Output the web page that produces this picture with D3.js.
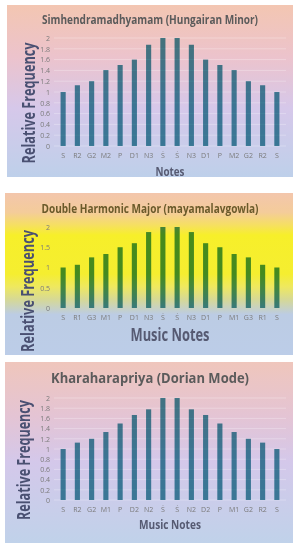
<!DOCTYPE html>
<html lang="en">
<head>
<meta charset="UTF-8">
<title>Ragas</title>
<script src="https://d3js.org/d3.v7.min.js"></script>
<style>
  body { margin: 0; background: #fff; }
  text { font-family: "Open Sans", "Noto Sans", sans-serif; }
</style>
</head>
<body>
<svg class="svgs" width="300" height="550"></svg>
<script>
// notes and relative frequencies for each scale
const notes1 = ['S', 'R2', 'G2', 'M2', 'P', 'D1', 'N3', 'Ṡ', 'Ṡ', 'N3', 'D1', 'P', 'M2', 'G2', 'R2', 'S']
const values1 = [1, 1.125, 1.2, 1.406, 1.5, 1.6, 1.875, 2, 2, 1.875, 1.6, 1.5, 1.406, 1.2, 1.125, 1]
const ticks1 = [0, 0.2, 0.4, 0.6, 0.8, 1, 1.2, 1.4, 1.6, 1.8, 2]

const notes2 = ['S', 'R1', 'G3', 'M1', 'P', 'D1', 'N3', 'Ṡ', 'Ṡ', 'N3', 'D1', 'P', 'M1', 'G3', 'R1', 'S']
const values2 = [1, 1.067, 1.25, 1.333, 1.5, 1.6, 1.875, 2, 2, 1.875, 1.6, 1.5, 1.333, 1.25, 1.067, 1]
const ticks2 = [0, 0.5, 1, 1.5, 2]

const notes3 = ['S', 'R2', 'G2', 'M1', 'P', 'D2', 'N2', 'Ṡ', 'Ṡ', 'N2', 'D2', 'P', 'M1', 'G2', 'R2', 'S']
const values3 = [1, 1.125, 1.2, 1.333, 1.5, 1.667, 1.778, 2, 2, 1.778, 1.667, 1.5, 1.333, 1.2, 1.125, 1]
const ticks3 = [0, 0.2, 0.4, 0.6, 0.8, 1, 1.2, 1.4, 1.6, 1.8, 2]

const titles = ['Simhendramadhyamam (Hungairan Minor)', 'Double Harmonic Major (mayamalavgowla)', 'Kharaharapriya (Dorian Mode)']
const xTitles = ['Notes', 'Music Notes', 'Music Notes']

const svg = d3.select('.svgs')
const defs = svg.append('defs')

// panel layouts
const panels = [
  { x: 7, y: 5, w: 286, h: 172, y0: 146, y1: 38, notes: notes1, values: values1, ticks: ticks1,
    titleY: 24, titleLen: 216, titleSize: 11.5, titleColor: '#5b5b5b',
    labY: 159, xtY: 176, xtSize: 12.5, xtLen: 29, ytX: 35, ytY: 103, ytLen: 121, grid: true,
    stops: [[0, '#f3c6b2'], [0.3, '#ecc3cc'], [0.6, '#d6c8ea'], [1, '#bed0ea']] },
  { x: 5, y: 193, w: 288, h: 162, y0: 308, y1: 227, notes: notes2, values: values2, ticks: ticks2,
    titleY: 213, titleLen: 217, titleSize: 11.5, titleColor: '#6a5a2a',
    labY: 321, xtY: 341, xtSize: 17, xtLen: 79, ytX: 34, ytY: 291, ytLen: 122, grid: false,
    stops: [[0, '#f3c6ac'], [0.12, '#f4cc9a'], [0.2, '#f6e060'], [0.26, '#f7ef2a'], [0.5, '#f5ee30'], [0.58, '#eee860'], [0.66, '#d5d898'], [0.75, '#bccce4'], [1, '#bccde8']] },
  { x: 5, y: 362, w: 288, h: 181, y0: 500, y1: 398, notes: notes3, values: values3, ticks: ticks3,
    titleY: 383, titleLen: 198, titleSize: 15, titleColor: '#5b5b5b',
    labY: 513, xtY: 529, xtSize: 13, xtLen: 62, ytX: 30, ytY: 460, ytLen: 120, grid: true,
    stops: [[0, '#efc6bc'], [0.3, '#e4c4d4'], [0.55, '#d4c8ea'], [1, '#c0d2ea']] }
]

panels.forEach((p, i) => {
  const grad = defs.append('linearGradient')
    .attr('id', 'bg' + i)
    .attr('x1', 0).attr('y1', 0).attr('x2', 0).attr('y2', 1)
  p.stops.forEach(s => grad.append('stop').attr('offset', s[0]).attr('stop-color', s[1]))

  const g = svg.append('g')

  g.append('rect')
    .attr('x', p.x).attr('y', p.y)
    .attr('width', p.w).attr('height', p.h)
    .attr('fill', `url(#bg${i})`)

  const idx = p.notes.map((d, j) => j)
  const xScale = d3.scaleBand()
    .domain(idx)
    .range([56, 284])
    .paddingInner(0.64)
    .paddingOuter(0.32)

  const yScale = d3.scaleLinear()
    .domain([0, 2])
    .range([p.y0, p.y1])

  // gridlines
  if (p.grid) {
    g.selectAll('.grid')
      .data(p.ticks)
      .enter()
      .append('line')
      .attr('x1', 54).attr('x2', 286)
      .attr('y1', d => yScale(d)).attr('y2', d => yScale(d))
      .attr('stroke', '#fff')
      .attr('stroke-opacity', 0.35)
      .attr('stroke-width', 0.8)
  }

  // y axis
  const yAxis = g.append('g')
    .attr('transform', 'translate(50,0)')
    .call(d3.axisLeft(yScale).tickValues(p.ticks).tickSize(0).tickFormat(d3.format('~g')))
  yAxis.select('.domain').remove()
  yAxis.selectAll('text')
    .attr('x', 0)
    .attr('fill', '#7a7a7a')
    .attr('font-size', 7)

  // bars
  g.selectAll('.bar')
    .data(p.values)
    .enter()
    .append('rect')
    .attr('x', (d, j) => xScale(j))
    .attr('y', d => yScale(d))
    .attr('width', xScale.bandwidth())
    .attr('height', d => yScale(0) - yScale(d))
    .attr('fill', '#4894a2')
    .style('mix-blend-mode', 'multiply')

  // x axis labels
  const xAxis = g.append('g')
    .attr('transform', `translate(0,${p.labY - 8})`)
    .call(d3.axisBottom(xScale).tickSize(0).tickFormat(j => p.notes[j]))
  xAxis.select('.domain').remove()
  xAxis.selectAll('text')
    .attr('y', 2)
    .attr('fill', '#7a7a7a')
    .attr('font-size', 7)

  // titles
  g.append('text')
    .attr('x', 150).attr('y', p.titleY)
    .attr('text-anchor', 'middle')
    .attr('font-size', p.titleSize)
    .attr('font-weight', 'bold')
    .attr('fill', p.titleColor)
    .attr('textLength', p.titleLen)
    .attr('lengthAdjust', 'spacingAndGlyphs')
    .text(titles[i])

  g.append('text')
    .attr('x', 170).attr('y', p.xtY)
    .attr('text-anchor', 'middle')
    .attr('font-size', p.xtSize)
    .attr('font-weight', 'bold')
    .attr('fill', '#565a72')
    .attr('textLength', p.xtLen)
    .attr('lengthAdjust', 'spacingAndGlyphs')
    .text(xTitles[i])

  g.append('text')
    .attr('transform', `translate(${p.ytX},${p.ytY}) rotate(-90)`)
    .attr('text-anchor', 'middle')
    .attr('font-size', 17)
    .attr('font-weight', 'bold')
    .attr('fill', '#4a5072')
    .attr('textLength', p.ytLen)
    .attr('lengthAdjust', 'spacingAndGlyphs')
    .text('Relative Frequency')
})
</script>
</body>
</html>
